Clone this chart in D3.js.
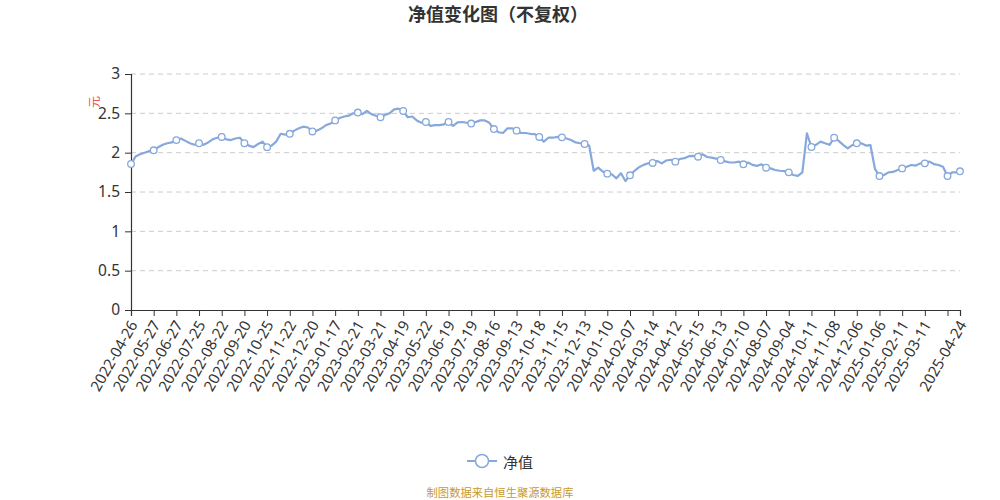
<!DOCTYPE html>
<html>
<head>
<meta charset="utf-8">
<script src="https://cdn.jsdelivr.net/npm/d3@7/dist/d3.min.js"></script>
<style>
  html, body { margin: 0; padding: 0; background: #fff; }
  svg { display: block; font-family: "Noto Sans", "Noto Sans CJK SC", sans-serif; }
</style>
</head>
<body>
<svg id="chart" width="1000" height="500"></svg>
<script>
// ---- data ----
const chartTitle = "净值变化图（不复权）";
const seriesName = "净值";
const unitLabel = "元";
const sourceNote = "制图数据来自恒生聚源数据库";
const lastDay = 731; // trading-day index of 2025-04-24
const sampleStep = 4; // values sampled every 4 trading days, last one is lastDay
const tickLabels = [
  "2022-04-26","2022-05-27","2022-06-27","2022-07-25","2022-08-22","2022-09-20",
  "2022-10-25","2022-11-22","2022-12-20","2023-01-17","2023-02-21","2023-03-21",
  "2023-04-19","2023-05-22","2023-06-19","2023-07-19","2023-08-16","2023-09-13",
  "2023-10-18","2023-11-15","2023-12-13","2024-01-10","2024-02-07","2024-03-14",
  "2024-04-12","2024-05-15","2024-06-13","2024-07-10","2024-08-07","2024-09-04",
  "2024-10-11","2024-11-08","2024-12-06","2025-01-06","2025-02-11","2025-03-11"
];
const lastLabel = "2025-04-24";
const labelEvery = 20;
const yTicks = [0, 0.5, 1, 1.5, 2, 2.5, 3];
const navValues = [
  1.856,1.95,1.98,2.00,2.02,2.03,2.07,2.10,2.12,2.13,
  2.16,2.18,2.15,2.12,2.10,2.12,2.10,2.13,2.17,2.19,
  2.20,2.17,2.16,2.18,2.19,2.12,2.09,2.07,2.11,2.14,
  2.07,2.09,2.14,2.24,2.23,2.24,2.28,2.31,2.33,2.32,
  2.27,2.28,2.31,2.35,2.37,2.41,2.44,2.46,2.47,2.50,
  2.51,2.49,2.53,2.49,2.47,2.45,2.48,2.50,2.55,2.56,
  2.53,2.45,2.46,2.41,2.38,2.39,2.34,2.35,2.35,2.36,
  2.39,2.34,2.385,2.39,2.38,2.37,2.39,2.41,2.41,2.38,
  2.30,2.26,2.25,2.31,2.31,2.28,2.25,2.25,2.24,2.235,
  2.20,2.14,2.19,2.19,2.20,2.195,2.18,2.16,2.13,2.12,
  2.11,2.09,1.77,1.81,1.76,1.733,1.725,1.674,1.738,1.64,
  1.712,1.77,1.815,1.845,1.865,1.869,1.894,1.864,1.90,1.91,
  1.886,1.92,1.93,1.955,1.96,1.949,1.979,1.945,1.937,1.925,
  1.907,1.89,1.875,1.875,1.886,1.852,1.875,1.845,1.832,1.852,
  1.809,1.80,1.78,1.77,1.765,1.75,1.716,1.705,1.75,2.246,
  2.072,2.10,2.14,2.12,2.10,2.19,2.15,2.10,2.055,2.095,
  2.119,2.119,2.09,2.097,1.795,1.703,1.716,1.75,1.755,1.78,
  1.80,1.82,1.843,1.836,1.864,1.864,1.886,1.855,1.843,1.82,
  1.703,1.75,1.75,1.763
];

// ---- drawing ----
const lineColor = "#86a8dd";
const svg = d3.select("#chart");
const W = 1000, H = 500;
const m = { left: 131, right: 40, top: 74, bottom: 190 };

const points = navValues.map((v, i) => ({ day: Math.min(i * sampleStep, lastDay), value: v }));

const x = d3.scaleLinear().domain([0, lastDay]).range([m.left, W - m.right]);
const y = d3.scaleLinear().domain([0, 3]).range([H - m.bottom, m.top]);

// title
svg.append("text")
  .attr("x", W / 2 - 2).attr("y", 21)
  .attr("text-anchor", "middle")
  .attr("font-family", "'Noto Sans CJK SC', sans-serif")
  .attr("font-weight", "bold")
  .attr("font-size", 18)
  .attr("fill", "#333")
  .text(chartTitle);

// grid
svg.append("g")
  .selectAll("line")
  .data(yTicks.filter(d => d > 0))
  .join("line")
  .attr("x1", x(0)).attr("x2", x(lastDay))
  .attr("y1", d => y(d)).attr("y2", d => y(d))
  .attr("stroke", "#cccccc")
  .attr("stroke-width", 1)
  .attr("stroke-dasharray", "5,4");

// y axis
const yAxis = d3.axisLeft(y).tickValues(yTicks).tickSize(6).tickPadding(5).tickFormat(d3.format("~g"));
const gy = svg.append("g").attr("transform", `translate(${x(0)},0)`).call(yAxis);
gy.select(".domain").attr("stroke", "#333").attr("stroke-width", 1.2);
gy.selectAll(".tick line").attr("stroke", "#333");
gy.selectAll(".tick text")
  .attr("font-size", 15.5)
  .attr("fill", "#333")
  .attr("font-family", "'Noto Sans', sans-serif");

// unit label
svg.append("text")
  .attr("transform", `translate(93,102) rotate(-90)`)
  .attr("text-anchor", "middle")
  .attr("dominant-baseline", "central")
  .attr("font-family", "'Noto Sans CJK SC', sans-serif")
  .attr("font-size", 12)
  .attr("fill", "#f05050")
  .text(unitLabel);

// x axis
const tickDays = d3.range(0, lastDay, labelEvery).concat([lastDay]);
const labelOf = d => (d === lastDay ? lastLabel : (tickLabels[d / labelEvery] || ""));
const xAxis = d3.axisBottom(x).tickValues(tickDays).tickSize(6).tickFormat(labelOf);
const gx = svg.append("g").attr("transform", `translate(0,${y(0)})`).call(xAxis);
gx.select(".domain").attr("stroke", "#333").attr("stroke-width", 1.2);
gx.selectAll(".tick line").attr("stroke", "#333");
gx.selectAll(".tick text")
  .attr("font-size", 15)
  .attr("fill", "#333")
  .attr("font-family", "'Noto Sans', sans-serif")
  .attr("text-anchor", "end")
  .attr("y", 0).attr("dy", "0.35em")
  .attr("transform", "translate(2,12) rotate(-60)");

// line
const line = d3.line().x(d => x(d.day)).y(d => y(d.value));
svg.append("path")
  .datum(points)
  .attr("fill", "none")
  .attr("stroke", lineColor)
  .attr("stroke-width", 2.2)
  .attr("stroke-linejoin", "round")
  .attr("d", line);

// symbols every labelEvery days plus the last point
svg.append("g")
  .selectAll("circle")
  .data(points.filter(p => p.day % labelEvery === 0 || p.day === lastDay))
  .join("circle")
  .attr("cx", d => x(d.day)).attr("cy", d => y(d.value))
  .attr("r", 3.3)
  .attr("fill", "#fff")
  .attr("stroke", lineColor)
  .attr("stroke-width", 1.3);

// legend
const lg = svg.append("g").attr("transform", "translate(482,461)");
lg.append("line").attr("x1", -15).attr("x2", 15).attr("y1", 0).attr("y2", 0)
  .attr("stroke", lineColor).attr("stroke-width", 2);
lg.append("circle").attr("r", 6.5).attr("fill", "#fff")
  .attr("stroke", lineColor).attr("stroke-width", 1.5);
lg.append("text").attr("x", 21).attr("y", 0).attr("dominant-baseline", "central")
  .attr("font-family", "'Noto Sans CJK SC', sans-serif")
  .attr("font-size", 15).attr("fill", "#333").text(seriesName);

// source note
svg.append("text")
  .attr("x", W / 2).attr("y", 497)
  .attr("text-anchor", "middle")
  .attr("font-family", "'Noto Sans CJK SC', sans-serif")
  .attr("font-size", 11.3)
  .attr("fill", "#c9992e")
  .text(sourceNote);
</script>
</body>
</html>
